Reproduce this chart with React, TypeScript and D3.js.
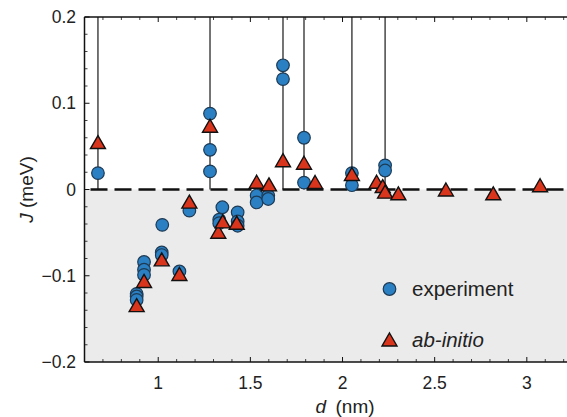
import React from "react";
import * as d3 from "d3";

// Exchange coupling J (meV) versus distance d (nm)
const expD = [
  0.673, 1.281, 1.281, 1.281, 1.677, 1.677, 1.791, 1.791, 2.051, 2.051, 2.231, 2.231,
  0.883, 0.883, 0.883, 0.923, 0.923, 0.923, 1.022, 1.019, 1.019, 1.115, 1.169,
  1.331, 1.331, 1.348, 1.431, 1.431, 1.431, 1.534, 1.534, 1.597, 1.597,
];
const expJ = [
  0.019, 0.088, 0.046, 0.021, 0.144, 0.128, 0.06, 0.008, 0.019, 0.005, 0.028, 0.022,
  -0.121, -0.124, -0.128, -0.084, -0.093, -0.099, -0.041, -0.073, -0.076, -0.095, -0.0245,
  -0.035, -0.039, -0.0206, -0.0265, -0.037, -0.042, -0.007, -0.015, -0.007, -0.011,
];
const abD = [
  0.673, 0.883, 0.923, 1.019, 1.115, 1.169, 1.281, 1.326, 1.35, 1.426, 1.534, 1.601,
  1.677, 1.791, 1.851, 2.051, 2.185, 2.218, 2.231, 2.303, 2.561, 2.818, 3.072,
];
const abJ = [
  0.055, -0.134, -0.106, -0.081, -0.098, -0.014, 0.074, -0.049, -0.037, -0.0385, 0.009, 0.006,
  0.034, 0.031, 0.0087, 0.018, 0.009, 0.004, -0.0025, -0.0044, 0.0, -0.0044, 0.0049,
];
// distances marked by guide lines
const lineD = [0.673, 1.281, 1.677, 1.791, 2.051, 2.231];

const xMajor = [1, 1.5, 2, 2.5, 3];
const xMajorLabels = ["1", "1.5", "2", "2.5", "3"];
const yMajor = [-0.2, -0.1, 0, 0.1, 0.2];
const yMajorLabels = ["\u22120.2", "\u22120.1", "0", "0.1", "0.2"];
const legendLabels = ["experiment", "ab-initio"];

const W = 567;
const H = 417;
const left = 84.5;
const top = 17;
const bottom = 362;

const font = "'Liberation Sans', Arial, Helvetica, sans-serif";
const blue = "#2a80c2";
const blueStroke = "#1d3a55";
const red = "#d9341c";

export default function App() {
  const x = d3.scaleLinear().domain([0.6, 3.22]).range([left, left + 2.62 * 184.3]);
  const y = d3.scaleLinear().domain([-0.2, 0.2]).range([bottom, top]);
  const right = x(3.22);

  const xMinor = d3.range(6, 33).map((v) => v / 10).filter((v) => !xMajor.some((m) => Math.abs(m - v) < 1e-6));
  const yMinor = d3.range(-10, 11).map((v) => v / 50).filter((v) => !yMajor.some((m) => Math.abs(m - v) < 1e-6));

  const tw = 15;
  const th = 13;
  const tri = (cx: number, cy: number) =>
    `M${cx},${cy - th / 2}L${cx + tw / 2},${cy + th / 2}L${cx - tw / 2},${cy + th / 2}Z`;

  return (
    <svg width={W} height={H} style={{ position: "absolute", left: 0, top: 0, background: "#fff" }}>
      {/* negative-J region */}
      <rect x={left} y={y(0)} width={right - left} height={bottom - y(0)} fill="#ebebeb" />

      {/* guide lines */}
      {lineD.map((d, i) => (
        <line key={"g" + i} x1={x(d)} x2={x(d)} y1={top} y2={y(0)} stroke="#2a2a2a" strokeWidth={1.3} />
      ))}

      {/* zero line */}
      <line x1={left} x2={right} y1={y(0)} y2={y(0)} stroke="#111" strokeWidth={2.4} strokeDasharray="17,7" strokeDashoffset={-6} />

      {/* axes frame */}
      <line x1={left} x2={right} y1={bottom} y2={bottom} stroke="#111" strokeWidth={1.5} />
      <line x1={left} x2={right} y1={top} y2={top} stroke="#111" strokeWidth={1.5} />
      <line x1={left} x2={left} y1={top} y2={bottom} stroke="#111" strokeWidth={1.5} />

      {/* x ticks (inside, bottom and top) */}
      {xMajor.map((v, i) => (
        <g key={"xm" + i}>
          <line x1={x(v)} x2={x(v)} y1={bottom} y2={bottom - 5} stroke="#111" strokeWidth={1} />
          <line x1={x(v)} x2={x(v)} y1={top} y2={top + 5} stroke="#111" strokeWidth={1} />
          <text x={x(v)} y={389} textAnchor="middle" fontFamily={font} fontSize={17.5} fill="#222">
            {xMajorLabels[i]}
          </text>
        </g>
      ))}
      {xMinor.map((v, i) => (
        <g key={"xn" + i}>
          <line x1={x(v)} x2={x(v)} y1={bottom} y2={bottom - 3} stroke="#111" strokeWidth={0.8} />
          <line x1={x(v)} x2={x(v)} y1={top} y2={top + 3} stroke="#111" strokeWidth={0.8} />
        </g>
      ))}

      {/* y ticks (inside, left) */}
      {yMajor.map((v, i) => (
        <g key={"ym" + i}>
          <line x1={left} x2={left + 5} y1={y(v)} y2={y(v)} stroke="#111" strokeWidth={1} />
          <text x={76} y={y(v)} dy="0.35em" textAnchor="end" fontFamily={font} fontSize={17.5} fill="#222">
            {yMajorLabels[i]}
          </text>
        </g>
      ))}
      {yMinor.map((v, i) => (
        <line key={"yn" + i} x1={left} x2={left + 3} y1={y(v)} y2={y(v)} stroke="#111" strokeWidth={0.8} />
      ))}

      {/* axis titles */}
      <text x={345} y={413} textAnchor="middle" fontFamily={font} fontSize={19} fill="#222">
        <tspan fontStyle="italic">d</tspan>
        <tspan>{"\u2002(nm)"}</tspan>
      </text>
      <text
        transform={`translate(${33},${y(0)}) rotate(-90)`}
        textAnchor="middle"
        fontFamily={font}
        fontSize={19}
        fill="#222"
      >
        <tspan fontStyle="italic">J</tspan>
        <tspan>{" (meV)"}</tspan>
      </text>

      {/* experiment */}
      {expD.map((d, i) => (
        <circle key={"e" + i} cx={x(d)} cy={y(expJ[i])} r={6.3} fill={blue} stroke={blueStroke} strokeWidth={1.2} />
      ))}

      {/* ab-initio */}
      {abD.map((d, i) => (
        <path key={"a" + i} d={tri(x(d), y(abJ[i]))} fill={red} stroke="#111" strokeWidth={1.4} strokeLinejoin="miter" />
      ))}

      {/* legend */}
      <circle cx={389.5} cy={289} r={6.3} fill={blue} stroke={blueStroke} strokeWidth={1.2} />
      <text x={412} y={289} dy="0.35em" fontFamily={font} fontSize={20.5} fill="#222">
        {legendLabels[0]}
      </text>
      <path d={tri(389.5, 339.5)} fill={red} stroke="#111" strokeWidth={1.4} />
      <text x={412} y={339.5} dy="0.35em" fontFamily={font} fontSize={20.5} fontStyle="italic" fill="#222">
        {legendLabels[1]}
      </text>
    </svg>
  );
}
